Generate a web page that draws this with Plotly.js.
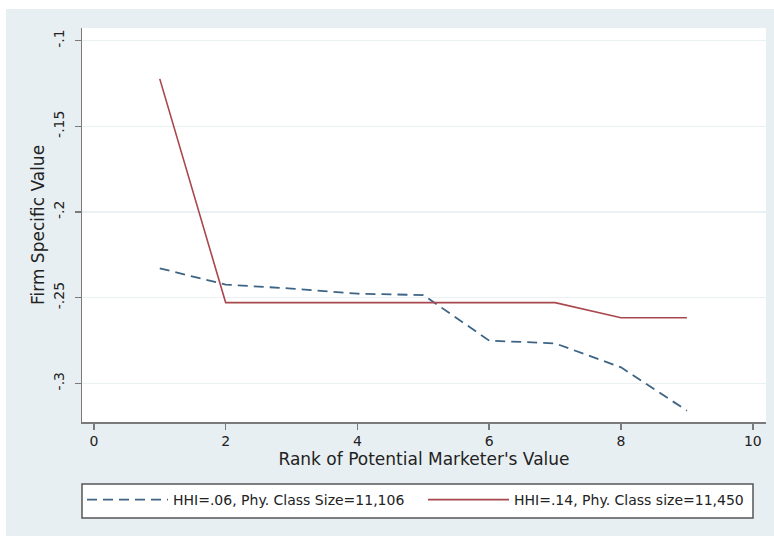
<!DOCTYPE html>
<html>
<head>
<meta charset="utf-8">
<script src="https://cdn.plot.ly/plotly-3.0.1.min.js"></script>
<style>html,body{margin:0;padding:0;background:#fff;}#chart{width:774px;height:536px;}</style>
</head>
<body>
<div id="chart"></div>
<script>
const rank = [1, 2, 3, 4, 5, 6, 7, 8, 9];
const hhi06 = [-0.2329, -0.2424, -0.2447, -0.2477, -0.2485, -0.2751, -0.2767, -0.2907, -0.3160];
const hhi14 = [-0.1223, -0.2529, -0.2529, -0.2529, -0.2529, -0.2529, -0.2529, -0.2617, -0.2617];
const seriesNames = ["HHI=.06, Phy. Class Size=11,106", "HHI=.14, Phy. Class size=11,450"];
const xTicks = [0, 2, 4, 6, 8, 10];
const yTicks = [-0.3, -0.25, -0.2, -0.15, -0.1];
const yTickLabels = ["-.3", "-.25", "-.2", "-.15", "-.1"];

const font = "DejaVu Sans, Liberation Sans, sans-serif";
const traces = [
  {x: rank, y: hhi06, name: seriesNames[0], mode: "lines", type: "scatter",
   line: {color: "#3e6485", width: 1.8, dash: "10px,6px"}},
  {x: rank, y: hhi14, name: seriesNames[1], mode: "lines", type: "scatter",
   line: {color: "#a8474d", width: 1.6}}
];
const W = 774, H = 536, L = 82, R = 8, T = 28, B = 114;
const pw = W - L - R, ph = H - T - B;
const px = v => (v - L) / pw;
const py = v => (H - B - v) / ph;
const layout = {
  width: W, height: H,
  margin: {l: L, r: R, t: T, b: B, autoexpand: false},
  paper_bgcolor: "#e8eff2",
  plot_bgcolor: "#ffffff",
  font: {family: font, color: "#222"},
  showlegend: true,
  xaxis: {
    range: [-0.18, 10.2], tickvals: xTicks, ticktext: xTicks.map(String),
    showgrid: false, zeroline: false, showline: true, linecolor: "#7a7a7a", linewidth: 1.5,
    ticks: "outside", ticklen: 6, tickcolor: "#7a7a7a", tickwidth: 1.5,
    tickfont: {size: 14, family: font, color: "#222"},
    title: {text: "Rank of Potential Marketer's Value", font: {size: 17, family: font, color: "#222"}, standoff: 4}
  },
  yaxis: {
    range: [-0.3226, -0.0926], tickvals: yTicks, ticktext: yTickLabels, tickangle: -90,
    showgrid: true, gridcolor: "#eaf1f2", gridwidth: 1.5, zeroline: false,
    showline: true, linecolor: "#7a7a7a", linewidth: 1.5,
    ticks: "outside", ticklen: 6, tickcolor: "#7a7a7a", tickwidth: 1.5,
    ticklabelstandoff: 5,
    tickfont: {size: 14, family: font, color: "#222"},
    title: {text: "Firm Specific Value", font: {size: 17, family: font, color: "#222"}, standoff: 2}
  },
  legend: {
    orientation: "h", x: 0, xanchor: "left", y: py(484), yanchor: "top",
    bgcolor: "rgba(0,0,0,0)", borderwidth: 0,
    font: {size: 14, family: font, color: "#222"},
    entrywidth: 245, itemwidth: 81, traceorder: "normal"
  },
  shapes: [
    {type: "rect", xref: "paper", yref: "paper", x0: px(0), x1: px(6), y0: -1, y1: 2, fillcolor: "#ffffff", line: {width: 0}, layer: "below"},
    {type: "rect", xref: "paper", yref: "paper", x0: -0.2, x1: 1.2, y0: py(9), y1: 1.2, fillcolor: "#ffffff", line: {width: 0}, layer: "below"},
    {type: "rect", xref: "paper", yref: "paper", x0: px(82), x1: px(753), y0: py(518), y1: py(484), fillcolor: "#ffffff", line: {color: "#555", width: 1.5}, layer: "below"}
  ]
};
Plotly.newPlot("chart", traces, layout, {displayModeBar: false, staticPlot: true});
</script>
</body>
</html>
